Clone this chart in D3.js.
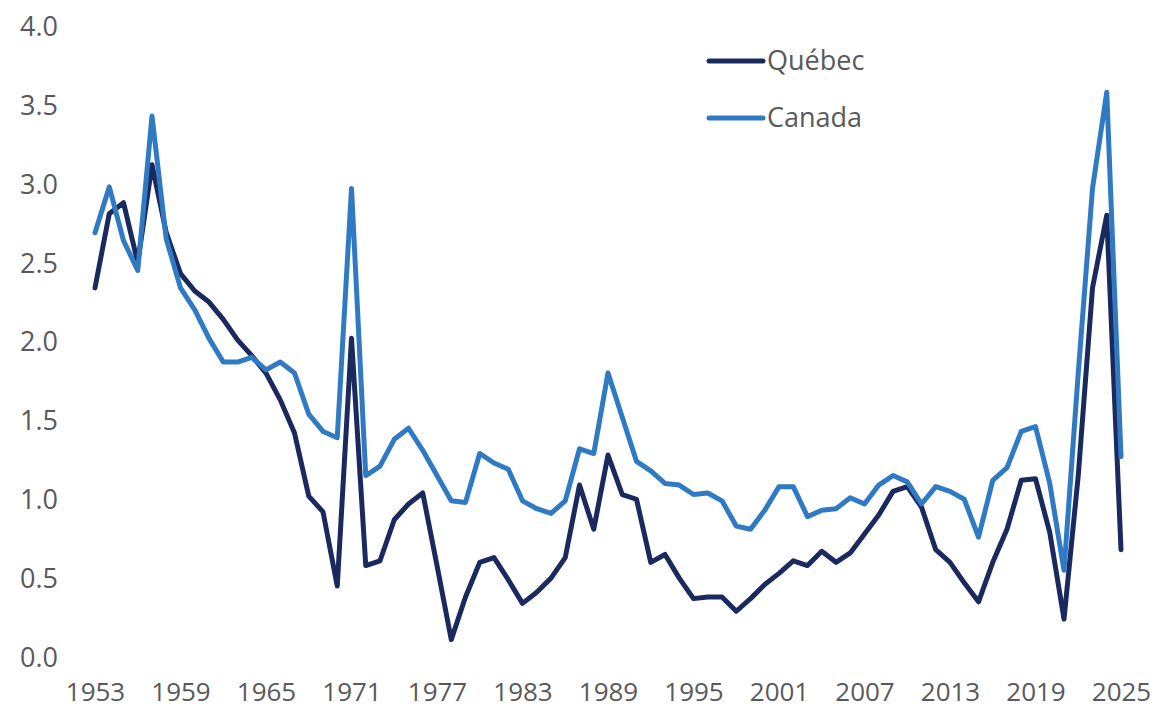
<!DOCTYPE html>
<html>
<head>
<meta charset="utf-8">
<script src="https://cdn.jsdelivr.net/npm/d3@7/dist/d3.min.js"></script>
<style>
  html, body { margin: 0; padding: 0; background: #ffffff; }
  svg { display: block; }
  text { font-family: "Open Sans", "Noto Sans", sans-serif; fill: #595959; }
</style>
</head>
<body>
<svg id="chart" width="1158" height="714"></svg>
<script>
const years = d3.range(1953, 2026);
const quebec = [
  2.34, 2.81, 2.88, 2.50, 3.12, 2.69, 2.43, 2.32, 2.25, 2.14,
  2.01, 1.91, 1.80, 1.63, 1.42, 1.02, 0.92, 0.45, 2.02, 0.58,
  0.61, 0.87, 0.97, 1.04, 0.58, 0.11, 0.38, 0.60, 0.63, 0.49,
  0.34, 0.41, 0.50, 0.63, 1.09, 0.81, 1.28, 1.03, 1.00, 0.60,
  0.65, 0.50, 0.37, 0.38, 0.38, 0.29, 0.37, 0.46, 0.53, 0.61,
  0.58, 0.67, 0.60, 0.66, 0.78, 0.90, 1.05, 1.08, 0.95, 0.68,
  0.60, 0.47, 0.35, 0.60, 0.81, 1.12, 1.13, 0.79, 0.24, 1.15,
  2.34, 2.80, 0.68
];
const canada = [
  2.69, 2.98, 2.64, 2.45, 3.43, 2.65, 2.34, 2.20, 2.02, 1.87,
  1.87, 1.90, 1.82, 1.87, 1.80, 1.54, 1.43, 1.39, 2.97, 1.15,
  1.21, 1.38, 1.45, 1.31, 1.15, 0.99, 0.98, 1.29, 1.23, 1.19,
  0.99, 0.94, 0.91, 0.99, 1.32, 1.29, 1.80, 1.52, 1.24, 1.18,
  1.10, 1.09, 1.03, 1.04, 0.99, 0.83, 0.81, 0.93, 1.08, 1.08,
  0.89, 0.93, 0.94, 1.01, 0.97, 1.09, 1.15, 1.11, 0.97, 1.08,
  1.05, 1.00, 0.76, 1.12, 1.20, 1.43, 1.46, 1.10, 0.55, 1.80,
  2.97, 3.58, 1.27
];
const yTicks = [0, 0.5, 1.0, 1.5, 2.0, 2.5, 3.0, 3.5, 4.0];
const xTicks = [1953, 1959, 1965, 1971, 1977, 1983, 1989, 1995, 2001, 2007, 2013, 2019, 2025];
const seriesNames = ["Québec", "Canada"];
const seriesColors = ["#1b2a5e", "#2f7ac3"];

const svg = d3.select("#chart");
const x = d3.scaleLinear().domain([1953, 2025]).range([95, 1121]);
const y = d3.scaleLinear().domain([0, 4]).range([657, 26]);

// Y axis (labels only)
const yAxis = d3.axisLeft(y).tickValues(yTicks).tickFormat(d3.format(".1f")).tickSize(0).tickPadding(0);
const gy = svg.append("g").attr("transform", "translate(58,0)").call(yAxis);
gy.select(".domain").remove();
gy.selectAll("text").style("font-size", "27px").attr("fill", "#595959")
  .style("font-family", '"Open Sans", sans-serif').attr("dy", "0.35em");

// X axis (labels only)
const xAxis = d3.axisBottom(x).tickValues(xTicks).tickFormat(d3.format("d")).tickSize(0).tickPadding(0);
const gx = svg.append("g").attr("transform", "translate(0,683)").call(xAxis);
gx.select(".domain").remove();
gx.selectAll("text").style("font-size", "26px").attr("fill", "#595959")
  .style("font-family", '"Open Sans", sans-serif').attr("dy", "0.71em");

const line = d3.line().x(d => x(d[0])).y(d => y(d[1]));
const allSeries = [quebec, canada];
// draw Canada first then Québec? Reference shows Québec dark on top in some places; draw Canada last as in Excel order
allSeries.forEach((vals, i) => {
  svg.append("path")
    .datum(years.map((yr, j) => [yr, vals[j]]))
    .attr("fill", "none")
    .attr("stroke", seriesColors[i])
    .attr("stroke-width", 5)
    .attr("stroke-linejoin", "round")
    .attr("stroke-linecap", "round")
    .attr("d", line);
});

// Legend
const legend = svg.append("g");
seriesNames.forEach((name, i) => {
  const ly = 61 + i * 57;
  legend.append("line")
    .attr("x1", 709).attr("x2", 763).attr("y1", ly).attr("y2", ly)
    .attr("stroke", seriesColors[i]).attr("stroke-width", 5).attr("stroke-linecap", "round");
  legend.append("text")
    .attr("x", 767).attr("y", ly).attr("dy", "0.35em")
    .style("font-size", "27px").text(name);
});
</script>
</body>
</html>
